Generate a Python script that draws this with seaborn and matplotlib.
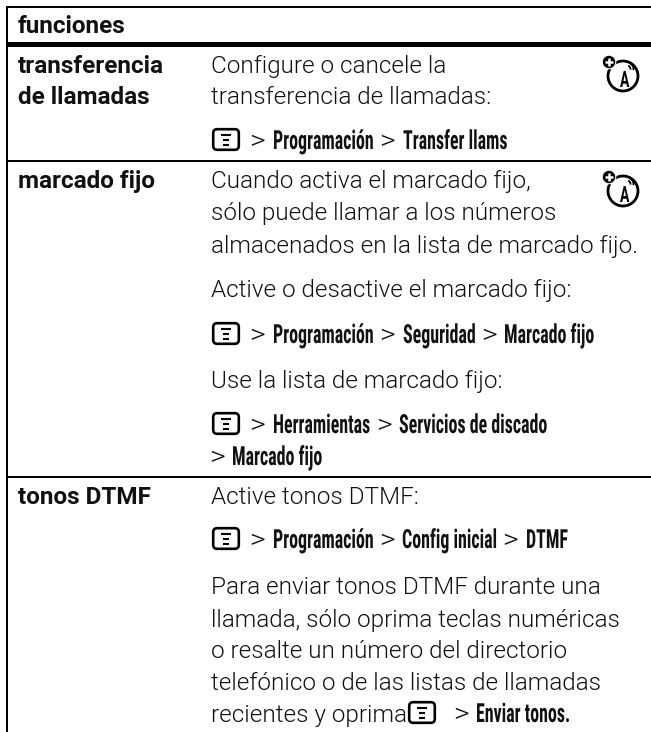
import matplotlib
matplotlib.use("Agg")
import matplotlib.pyplot as plt
import matplotlib.patheffects as pe
from matplotlib.patches import Arc, Circle, FancyBboxPatch, Rectangle
from matplotlib.transforms import Affine2D
import seaborn as sns

# ---- content ------------------------------------------------------------
HEADER = "funciones"
ROW_LABELS = [["transferencia", "de llamadas"], ["marcado fijo"], ["tonos DTMF"]]
BODY_LINES = [
    "Configure o cancele la", "transferencia de llamadas:",
    "Cuando activa el marcado fijo,", "sólo puede llamar a los números",
    "almacenados en la lista de marcado fijo.", "Active o desactive el marcado fijo:",
    "Use la lista de marcado fijo:", "Active tonos DTMF:",
    "Para enviar tonos DTMF durante una", "llamada, sólo oprima teclas numéricas",
    "o resalte un número del directorio", "telefónico o de las listas de llamadas",
    "recientes y oprima",
]
MENU_PATHS = [
    ["Programación", "Transfer llams"],
    ["Programación", "Seguridad", "Marcado fijo"],
    ["Herramientas", "Servicios de discado"],
    ["Marcado fijo"],
    ["Programación", "Config inicial", "DTMF"],
    ["Enviar tonos."],
]

# ---- layout (pixels from top-left) --------------------------------------
BODY_Y = [73, 104, 188, 220, 253, 297, 388, 504, 594, 627, 658, 690, 722]
LABEL_Y = [[73, 104], [188], [504]]
MENU_Y = [149, 343, 433, 465, 548, 722]
MENU_ICON_X = [212, 212, 212, None, 212, 408]
MENU_SEG_X = [
    [(250, 273), (380, 403)],
    [(250, 273), (380, 403), (482, 504)],
    [(250, 273), (377, 399)],
    [(210, 232)],
    [(250, 273), (380, 402), (503, 526)],
    [(454, 476)],
]
NET_ICON_Y = [76, 191]

FS_BOLD, FS_BODY, FS_MENU, MENU_TALL = 17.5, 17.5, 12.9, 1.47
FS_GT, GT_TALL = 22.0, 0.88


class Tall(pe.AbstractPathEffect):
    """Draw the glyph outlines stretched vertically about the baseline."""
    def __init__(self, sy):
        super().__init__()
        self.sy = sy

    def draw_path(self, renderer, gc, tpath, affine, rgbFace=None):
        renderer.draw_path(gc, tpath, Affine2D().scale(1, self.sy) + affine, rgbFace)


sns.set_theme(style="white", rc={"axes.edgecolor": "black"})
fig = plt.figure(figsize=(6.51, 7.32), dpi=100, facecolor="white")
ax = fig.add_axes([0, 0, 1, 1])
ax.set_xlim(0, 651)
ax.set_ylim(732, 0)
ax.axis("off")

K = "#111111"
for x, y, w, h in [(6, 6, 645, 2.2), (6, 6, 2.2, 726), (6, 42, 645, 5.2),
                   (6, 160, 645, 2), (6, 476, 645, 2)]:
    ax.add_patch(Rectangle((x, y), w, h, color="black", lw=0))


def bold(x, y, s):
    ax.text(x, y, s, family="Roboto", weight="bold", fontsize=FS_BOLD, color=K, va="baseline")


bold(18, 33, HEADER)
for lines, ys in zip(ROW_LABELS, LABEL_Y):
    for s, y in zip(lines, ys):
        bold(18, y, s)
for s, y in zip(BODY_LINES, BODY_Y):
    ax.text(211, y, s, family="Roboto", weight=300, fontsize=FS_BODY, color=K, va="baseline")


def menu_icon(x, base):
    top = base - 21
    ax.add_patch(FancyBboxPatch((x + 1.2, top + 1.2), 25.6, 20.6,
                                boxstyle="round,pad=0,rounding_size=4",
                                fc="white", ec="black", lw=1.9))
    cx = x + 14
    for dy, w in zip((7, 12, 17), (10, 6, 6)):
        ax.plot([cx - w / 2, cx + w / 2], [top + dy, top + dy], color="black", lw=1.5,
                solid_capstyle="butt")


def net_icon(cy):
    cx = 623
    ax.add_patch(Circle((cx, cy), 15, fc="white", ec="black", lw=2.0))
    ax.add_patch(Circle((609, cy - 14), 6.8, fc="black", ec="white", lw=0.8))
    ax.plot([605, 613], [cy - 14, cy - 14], color="white", lw=1.8, solid_capstyle="butt")
    ax.plot([609, 609], [cy - 18, cy - 10], color="white", lw=1.8, solid_capstyle="butt")
    ax.text(620, cy + 11, "A", family="Roboto", weight="bold", fontsize=10, color="black",
            va="baseline", path_effects=[Tall(1.62)])
    for r in (3.5, 6.5):
        ax.add_patch(Arc((627, cy - 7), 2 * r, 2 * r, theta1=-70, theta2=10, ec="black", lw=1.3))


for segs, names, y, ix in zip(MENU_SEG_X, MENU_PATHS, MENU_Y, MENU_ICON_X):
    if ix is not None:
        menu_icon(ix, y)
    for (gx, nx), name in zip(segs, names):
        ax.text(gx, y, ">", family="Roboto", weight=300, fontsize=FS_GT, color=K, va="baseline",
                path_effects=[Tall(GT_TALL)])
        ax.text(nx, y, name, family="Roboto Condensed", weight="bold", fontsize=FS_MENU, color=K,
                va="baseline", path_effects=[Tall(MENU_TALL)])

for b in NET_ICON_Y:
    net_icon(b)

fig.savefig("out.png", dpi=100, facecolor="white")
